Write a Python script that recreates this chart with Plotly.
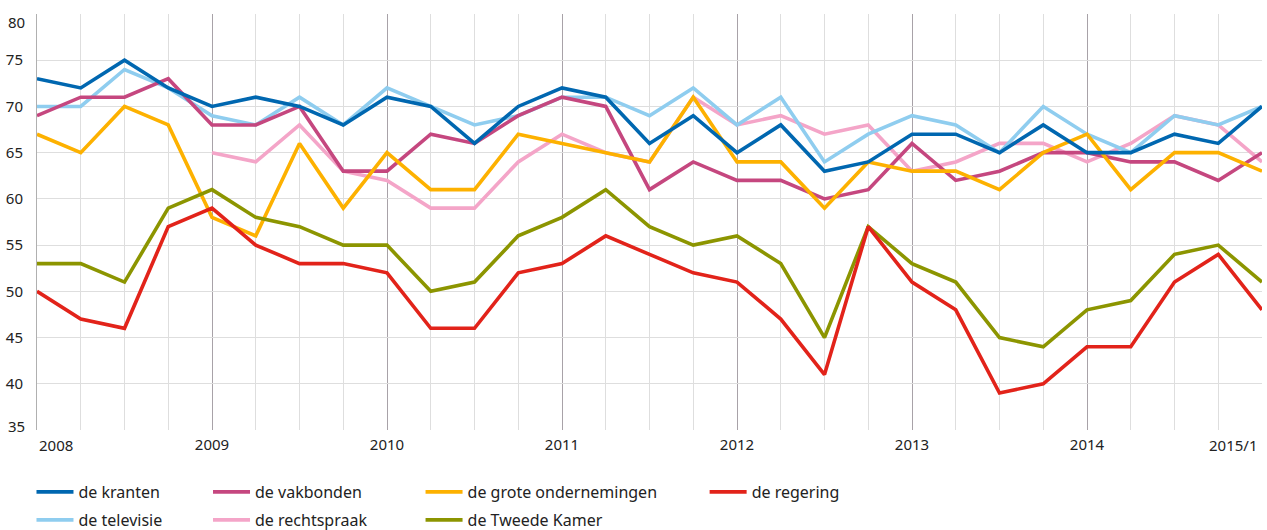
import plotly.graph_objects as go

quarters = list(range(29))  # 2008/1 .. 2015/1
year_ticks = [0, 4, 8, 12, 16, 20, 24, 28]
year_labels = ["", "2009", "2010", "2011", "2012", "2013", "2014", ""]
y_ticks = [35, 40, 45, 50, 55, 60, 65, 70, 75, 80]
y_labels = ["", "40", "45", "50", "55", "60", "65", "70", "75", ""]

kranten = [73, 72, 75, 72, 70, 71, 70, 68, 71, 70, 66, 70, 72, 71, 66, 69, 65, 68, 63, 64, 67, 67, 65, 68, 65, 65, 67, 66, 70]
televisie = [70, 70, 74, 72, 69, 68, 71, 68, 72, 70, 68, 69, 71, 71, 69, 72, 68, 71, 64, 67, 69, 68, 65, 70, 67, 65, 69, 68, 70]
vakbonden = [69, 71, 71, 73, 68, 68, 70, 63, 63, 67, 66, 69, 71, 70, 61, 64, 62, 62, 60, 61, 66, 62, 63, 65, 65, 64, 64, 62, 65]
rechtspraak = [None, None, None, None, 65, 64, 68, 63, 62, 59, 59, 64, 67, 65, 64, 71, 68, 69, 67, 68, 63, 64, 66, 66, 64, 66, 69, 68, 64]
ondernemingen = [67, 65, 70, 68, 58, 56, 66, 59, 65, 61, 61, 67, 66, 65, 64, 71, 64, 64, 59, 64, 63, 63, 61, 65, 67, 61, 65, 65, 63]
tweede_kamer = [53, 53, 51, 59, 61, 58, 57, 55, 55, 50, 51, 56, 58, 61, 57, 55, 56, 53, 45, 57, 53, 51, 45, 44, 48, 49, 54, 55, 51]
regering = [50, 47, 46, 57, 59, 55, 53, 53, 52, 46, 46, 52, 53, 56, 54, 52, 51, 47, 41, 57, 51, 48, 39, 40, 44, 44, 51, 54, 48]

# drawing order (bottom to top), legend slot (column, row)
series = [
    ("de rechtspraak", rechtspraak, "#f4a5c8", (1, 1)),
    ("de televisie", televisie, "#8fcdef", (0, 1)),
    ("de vakbonden", vakbonden, "#c5477f", (1, 0)),
    ("de grote ondernemingen", ondernemingen, "#fdb100", (2, 0)),
    ("de kranten", kranten, "#0067b0", (0, 0)),
    ("de Tweede Kamer", tweede_kamer, "#8c9500", (2, 1)),
    ("de regering", regering, "#e2231a", (3, 0)),
]
col_x = [-0.0045, 0.1396, 0.3131, 0.5450]
row_y = [-0.149, -0.2163]

fig = go.Figure()
legends = {}
for i, (name, vals, col, (c, r)) in enumerate(series):
    lg = "legend" if i == 0 else f"legend{i + 1}"
    fig.add_trace(go.Scatter(
        x=quarters, y=vals, name=name, mode="lines",
        line=dict(color=col, width=3.6), legend=lg, connectgaps=False,
    ))
    legends[lg] = dict(
        x=col_x[c], y=row_y[r], xanchor="left", yanchor="middle",
        orientation="v", font=dict(family="Noto Sans", size=16, color="#222"),
        bgcolor="rgba(0,0,0,0)", itemwidth=37, borderwidth=0,
    )

font = dict(family="Noto Sans", size=15, color="#222222")

fig.update_layout(
    width=1267, height=530,
    margin=dict(l=37, r=5, t=14, b=100, autoexpand=False),
    plot_bgcolor="white", paper_bgcolor="white",
    font=font,
    showlegend=True,
    xaxis=dict(
        range=[0, 28], tickvals=year_ticks, ticktext=year_labels,
        showgrid=True, gridcolor="#a8a2a8", gridwidth=1,
        minor=dict(dtick=1, tick0=0, showgrid=True, gridcolor="#dedede", gridwidth=1),
        showline=False, zeroline=False, ticks="", tickfont=font, automargin=False,
        ticklabelstandoff=4,
    ),
    yaxis=dict(
        range=[35, 80], tickvals=y_ticks, ticktext=y_labels,
        showgrid=True, gridcolor="#dedede", gridwidth=1,
        showline=True, linecolor="#b0b0b0", linewidth=1,
        zeroline=False, ticks="", ticklabelstandoff=10, automargin=False,
        tickfont=font,
    ),
    annotations=[
        dict(x=0, y=0, xref="x", yref="paper", text="2008", showarrow=False,
             xanchor="left", yanchor="top", xshift=0, yshift=-3, font=font),
        dict(x=28, y=0, xref="x", yref="paper", text="2015/1", showarrow=False,
             xanchor="right", yanchor="top", xshift=-3, yshift=-3, font=font),
        dict(x=0, y=80, xref="paper", yref="y", text="80", showarrow=False,
             xanchor="right", yanchor="middle", xshift=-10, yshift=-8, font=font),
        dict(x=0, y=35, xref="paper", yref="y", text="35", showarrow=False,
             xanchor="right", yanchor="middle", xshift=-10, yshift=4, font=font),
    ],
    **legends,
)

fig.write_html("out.html", config={"displayModeBar": False},
               post_script="document.body.style.margin='0';")
